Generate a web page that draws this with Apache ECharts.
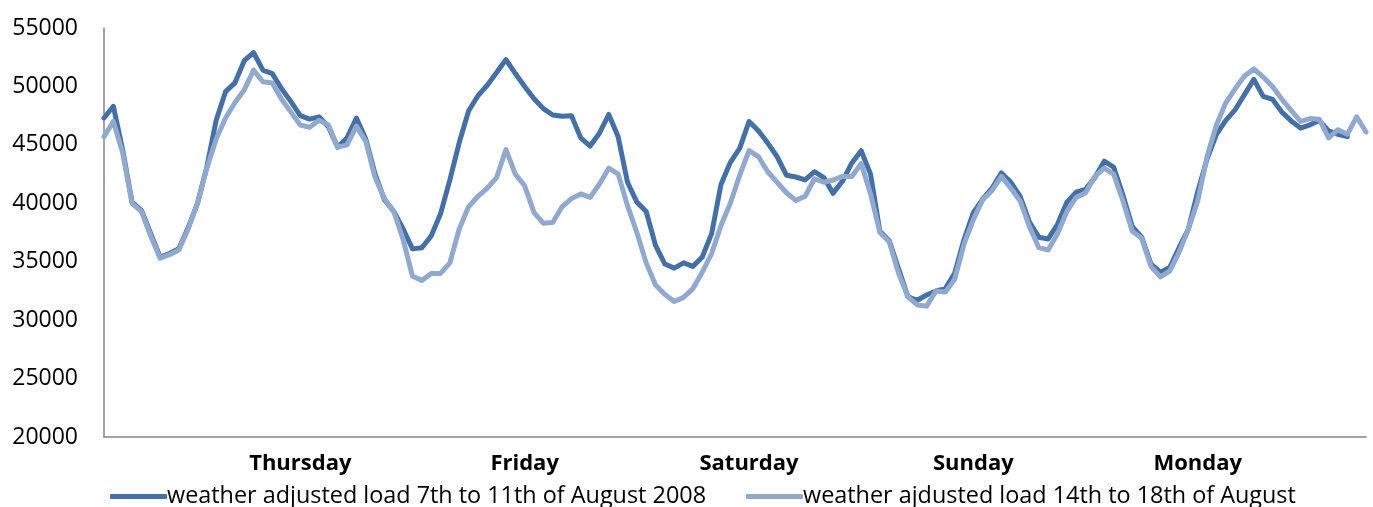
<!DOCTYPE html>
<html>
<head>
<meta charset="utf-8">
<script src="https://cdn.jsdelivr.net/npm/echarts@6/dist/echarts.min.js"></script>
<style>
html,body{margin:0;padding:0;background:#fff;}
#chart{width:1373px;height:507px;}
</style>
</head>
<body>
<div id="chart"></div>
<script>
const seriesNames = ['weather adjusted load 7th to 11th of August 2008', 'weather ajdusted load 14th to 18th of August'];
const dayNames = ['Thursday', 'Friday', 'Saturday', 'Sunday', 'Monday'];
const dayLabelIndex = [21, 45, 69, 93, 117];

const load7to11 = [
  47300, 48300, 44560, 40100, 39400, 37400, 35400, 35700, 36100, 37900, 40000, 43100, 47100, 49550, 50300, 52200, 52900, 51400, 51100, 49800, 48700, 47500, 47200,
  47400, 46550, 44800, 45600, 47300, 45500, 42500, 40300, 39300, 37800, 36100, 36200, 37200, 39100, 42000, 45200, 47900, 49200, 50100, 51200, 52300, 51100, 50000,
  48950, 48100, 47550, 47450, 47500, 45600, 44900, 46000, 47600, 45700, 41800, 40100, 39300, 36400, 34800, 34450, 34900, 34600, 35400, 37400, 41600, 43500,
  44700, 47000, 46200, 45150, 44000, 42400, 42250, 42000, 42700, 42200, 40850, 41900, 43450, 44500, 42500, 37600, 36800, 34400, 32000, 31700, 32150, 32500,
  32700, 34000, 36900, 39200, 40350, 41300, 42600, 41800, 40600, 38400, 37100, 36950, 38200, 40100, 40950, 41200, 42200, 43600, 43100, 40700, 38000, 37100, 34800,
  34100, 34500, 36200, 37800, 41000, 43800, 45900, 47100, 48000, 49300, 50600, 49150, 48900, 47800, 47050, 46430, 46700, 47100, 46200, 45900, 45700
];
const load14to18 = [
  45700, 47000, 44300, 40000, 39300, 37200, 35300, 35600, 36000, 37800, 40000, 43000, 45500, 47300, 48600, 49700, 51400, 50400, 50300, 48900, 47800, 46700, 46500,
  47100, 46700, 44800, 45000, 46600, 45300, 42200, 40400, 39300, 36900, 33750, 33400, 34000, 34000, 34900, 37800, 39700, 40600, 41300, 42200, 44600, 42500, 41500,
  39200, 38300, 38350, 39700, 40400, 40800, 40500, 41650, 43000, 42500, 39800, 37500, 34900, 33000, 32200, 31600, 31950, 32700, 34100, 35700, 38100, 40000,
  42400, 44500, 44000, 42700, 41800, 40900, 40250, 40600, 42100, 41800, 41990, 42300, 42300, 43400, 40800, 37500, 36700, 34000, 32000, 31300, 31200, 32500,
  32400, 33500, 36500, 38600, 40300, 41100, 42300, 41300, 40200, 38000, 36200, 36000, 37400, 39300, 40500, 40900, 42300, 43000, 42500, 40200, 37600, 37000, 34600,
  33700, 34200, 35800, 37800, 40200, 44000, 46700, 48600, 49800, 50900, 51500, 50800, 50000, 48900, 47950, 47000, 47250, 47200, 45600, 46300, 45900, 47400, 46100
];

const nPoints = Math.max(load7to11.length, load14to18.length);
const categories = [];
for (let i = 0; i < nPoints; i++) categories.push('h' + i);
const labelMap = {};
dayLabelIndex.forEach((idx, k) => { labelMap[idx] = dayNames[k]; });

const FONT = 'Open Sans';
const chart = echarts.init(document.getElementById('chart'), null, {renderer: 'canvas'});
chart.setOption({
  animation: false,
  backgroundColor: '#ffffff',
  textStyle: {fontFamily: FONT},
  grid: {left: 104, right: 7, top: 28, bottom: 70, containLabel: false},
  legend: {
    left: 105,
    top: 480,
    icon: 'roundRect',
    itemWidth: 57,
    itemHeight: 5,
    itemGap: 40,
    textStyle: {fontFamily: FONT, fontSize: 23.4, color: '#000', padding: [0, 0, 0, -5]},
    data: seriesNames
  },
  xAxis: {
    type: 'category',
    data: categories,
    boundaryGap: false,
    axisLine: {show: true, lineStyle: {color: '#868686', width: 1.5}},
    axisTick: {show: false},
    splitLine: {show: false},
    axisLabel: {
      interval: function (index) { return labelMap[index] !== undefined; },
      formatter: function (value, index) { return labelMap[index] || ''; },
      fontFamily: FONT,
      fontSize: 22,
      fontWeight: 'bold',
      color: '#000',
      margin: 16
    }
  },
  yAxis: {
    type: 'value',
    min: 20000,
    max: 55000,
    interval: 5000,
    axisLine: {show: true, lineStyle: {color: '#868686', width: 1.5}},
    axisTick: {show: false},
    splitLine: {show: false},
    axisLabel: {
      fontFamily: FONT, fontSize: 23, color: '#000', margin: 26,
      formatter: function (v) { return String(v); }
    }
  },
  series: [
    {
      name: seriesNames[0],
      type: 'line',
      data: load7to11,
      symbol: 'none',
      smooth: false,
      lineStyle: {color: '#4570A6', width: 5, join: 'round', cap: 'round'},
      itemStyle: {color: '#4570A6'}
    },
    {
      name: seriesNames[1],
      type: 'line',
      data: load14to18,
      symbol: 'none',
      smooth: false,
      lineStyle: {color: '#91A8CF', width: 5, join: 'round', cap: 'round'},
      itemStyle: {color: '#91A8CF'}
    }
  ]
});
</script>
</body>
</html>
